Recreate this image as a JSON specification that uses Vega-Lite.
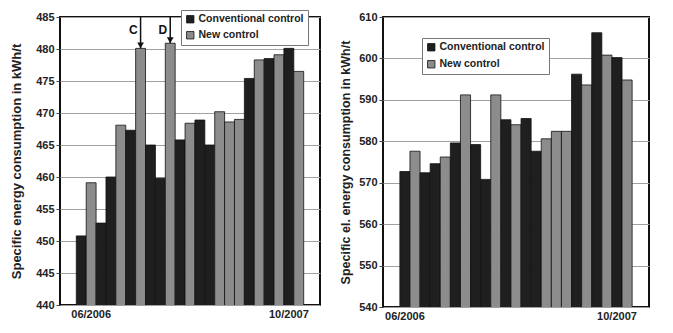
{
  "$schema": "https://vega.github.io/schema/vega-lite/v6.json",
  "background": "white",
  "padding": {"left": 9, "top": 8, "right": 5, "bottom": 2},
  "spacing": 17,
  "datasets": {
    "left": [
      {"period": 1, "control": "Conventional control", "value": 450.8},
      {"period": 2, "control": "New control", "value": 459.1},
      {"period": 3, "control": "Conventional control", "value": 452.8},
      {"period": 4, "control": "Conventional control", "value": 460.0},
      {"period": 5, "control": "New control", "value": 468.1},
      {"period": 6, "control": "Conventional control", "value": 467.3},
      {"period": 7, "control": "New control", "value": 480.1},
      {"period": 8, "control": "Conventional control", "value": 465.0},
      {"period": 9, "control": "Conventional control", "value": 459.8},
      {"period": 10, "control": "New control", "value": 480.9},
      {"period": 11, "control": "Conventional control", "value": 465.8},
      {"period": 12, "control": "New control", "value": 468.4},
      {"period": 13, "control": "Conventional control", "value": 468.9},
      {"period": 14, "control": "Conventional control", "value": 465.0},
      {"period": 15, "control": "New control", "value": 470.2},
      {"period": 16, "control": "New control", "value": 468.6},
      {"period": 17, "control": "New control", "value": 469.0},
      {"period": 18, "control": "Conventional control", "value": 475.4},
      {"period": 19, "control": "New control", "value": 478.3},
      {"period": 20, "control": "Conventional control", "value": 478.5},
      {"period": 21, "control": "New control", "value": 479.1},
      {"period": 22, "control": "Conventional control", "value": 480.1},
      {"period": 23, "control": "New control", "value": 476.5}
    ],
    "right": [
      {"period": 1, "control": "Conventional control", "value": 572.7},
      {"period": 2, "control": "New control", "value": 577.6},
      {"period": 3, "control": "Conventional control", "value": 572.4},
      {"period": 4, "control": "Conventional control", "value": 574.6},
      {"period": 5, "control": "New control", "value": 576.2},
      {"period": 6, "control": "Conventional control", "value": 579.6},
      {"period": 7, "control": "New control", "value": 591.2},
      {"period": 8, "control": "Conventional control", "value": 579.2},
      {"period": 9, "control": "Conventional control", "value": 570.8},
      {"period": 10, "control": "New control", "value": 591.2},
      {"period": 11, "control": "Conventional control", "value": 585.2},
      {"period": 12, "control": "New control", "value": 584.0},
      {"period": 13, "control": "Conventional control", "value": 585.5},
      {"period": 14, "control": "Conventional control", "value": 577.6},
      {"period": 15, "control": "New control", "value": 580.6},
      {"period": 16, "control": "New control", "value": 582.4},
      {"period": 17, "control": "New control", "value": 582.4},
      {"period": 18, "control": "Conventional control", "value": 596.2},
      {"period": 19, "control": "New control", "value": 593.6},
      {"period": 20, "control": "Conventional control", "value": 606.2},
      {"period": 21, "control": "New control", "value": 600.8},
      {"period": 22, "control": "Conventional control", "value": 600.2},
      {"period": 23, "control": "New control", "value": 594.8}
    ],
    "marks": [
      {"period": 7, "label": "C", "top": 480.1, "start": 485},
      {"period": 10, "label": "D", "top": 480.9, "start": 485}
    ]
  },
  "resolve": {"scale": {"color": "independent"}, "legend": {"color": "independent"}},
  "hconcat": [
    {
      "width": 260,
      "height": 288,
      "layer": [
        {
          "data": {"name": "left"},
          "mark": {"type": "bar", "stroke": "#111", "strokeWidth": 0.8, "clip": true},
          "encoding": {
            "x": {
              "field": "period", "type": "ordinal",
              "scale": {"domain": [0, 1, 2, 3, 4, 5, 6, 7, 8, 9, 10, 11, 12, 13, 14, 15, 16, 17, 18, 19, 20, 21, 22, 23, 24], "paddingInner": 0, "paddingOuter": 0.65},
              "axis": {
                "title": null, "ticks": false, "domain": false, "labelAngle": 0, "labelOverlap": false,
                "labelExpr": "datum.value == 2 ? '06/2006' : datum.value == 22 ? '10/2007' : ''",
                "labelFont": "Liberation Sans", "labelFontWeight": "bold", "labelFontSize": 11, "labelColor": "#222", "labelPadding": 3
              }
            },
            "y": {
              "field": "value", "type": "quantitative",
              "scale": {"domain": [440, 485], "zero": false, "nice": false},
              "axis": {
                "title": "Specific energy consumption in kWh/t",
                "values": [440, 445, 450, 455, 460, 465, 470, 475, 480, 485],
                "labelOverlap": false,
                "titleFont": "Liberation Sans", "titleFontWeight": "bold", "titleFontSize": 13, "titleColor": "#222", "titlePadding": 12,
                "labelFont": "Liberation Sans", "labelFontWeight": "bold", "labelFontSize": 11, "labelColor": "#222", "labelPadding": 2,
                "tickSize": 4, "tickColor": "#444", "domain": false,
                "grid": true, "gridColor": "#a0a0a0", "gridWidth": 1
              }
            },
            "color": {
              "field": "control", "type": "nominal",
              "scale": {"domain": ["Conventional control", "New control"], "range": ["#1f1f1f", "#8c8c8c"]},
              "legend": {
                "title": null, "orient": "none", "legendX": 121, "legendY": -7,
                "fillColor": "white", "strokeColor": "#777", "padding": 4, "rowPadding": 4,
                "symbolType": "square", "symbolSize": 55, "symbolStrokeColor": "#111", "symbolStrokeWidth": 0.8,
                "labelFont": "Liberation Sans", "labelFontWeight": "bold", "labelFontSize": 10.5, "labelColor": "#222", "labelOffset": 3
              }
            }
          }
        },
        {
          "data": {"name": "marks"},
          "mark": {"type": "rule", "color": "#111", "strokeWidth": 1.5},
          "encoding": {
            "x": {
              "field": "period", "type": "ordinal",
              "axis": {
                "title": null, "ticks": false, "domain": false, "labelAngle": 0, "labelOverlap": false,
                "labelExpr": "datum.value == 2 ? '06/2006' : datum.value == 22 ? '10/2007' : ''",
                "labelFont": "Liberation Sans", "labelFontWeight": "bold", "labelFontSize": 11, "labelColor": "#222", "labelPadding": 3
              }
            },
            "y": {
              "field": "start", "type": "quantitative",
              "axis": {
                "title": "Specific energy consumption in kWh/t",
                "values": [440, 445, 450, 455, 460, 465, 470, 475, 480, 485],
                "labelOverlap": false,
                "titleFont": "Liberation Sans", "titleFontWeight": "bold", "titleFontSize": 13, "titleColor": "#222", "titlePadding": 12,
                "labelFont": "Liberation Sans", "labelFontWeight": "bold", "labelFontSize": 11, "labelColor": "#222", "labelPadding": 2,
                "tickSize": 4, "tickColor": "#444", "domain": false,
                "grid": true, "gridColor": "#a0a0a0", "gridWidth": 1
              }
            },
            "y2": {"field": "top"}
          }
        },
        {
          "data": {"name": "marks"},
          "mark": {"type": "point", "shape": "triangle-down", "filled": true, "color": "#111", "size": 45, "yOffset": -3, "opacity": 1},
          "encoding": {
            "x": {
              "field": "period", "type": "ordinal",
              "axis": {
                "title": null, "ticks": false, "domain": false, "labelAngle": 0, "labelOverlap": false,
                "labelExpr": "datum.value == 2 ? '06/2006' : datum.value == 22 ? '10/2007' : ''",
                "labelFont": "Liberation Sans", "labelFontWeight": "bold", "labelFontSize": 11, "labelColor": "#222", "labelPadding": 3
              }
            },
            "y": {
              "field": "top", "type": "quantitative",
              "axis": {
                "title": "Specific energy consumption in kWh/t",
                "values": [440, 445, 450, 455, 460, 465, 470, 475, 480, 485],
                "labelOverlap": false,
                "titleFont": "Liberation Sans", "titleFontWeight": "bold", "titleFontSize": 13, "titleColor": "#222", "titlePadding": 12,
                "labelFont": "Liberation Sans", "labelFontWeight": "bold", "labelFontSize": 11, "labelColor": "#222", "labelPadding": 2,
                "tickSize": 4, "tickColor": "#444", "domain": false,
                "grid": true, "gridColor": "#a0a0a0", "gridWidth": 1
              }
            }
          }
        },
        {
          "data": {"name": "marks"},
          "mark": {"type": "text", "font": "Liberation Sans", "fontWeight": "bold", "fontSize": 12, "color": "#111", "dx": -3, "dy": 13, "align": "right"},
          "encoding": {
            "x": {
              "field": "period", "type": "ordinal",
              "axis": {
                "title": null, "ticks": false, "domain": false, "labelAngle": 0, "labelOverlap": false,
                "labelExpr": "datum.value == 2 ? '06/2006' : datum.value == 22 ? '10/2007' : ''",
                "labelFont": "Liberation Sans", "labelFontWeight": "bold", "labelFontSize": 11, "labelColor": "#222", "labelPadding": 3
              }
            },
            "y": {
              "field": "start", "type": "quantitative",
              "axis": {
                "title": "Specific energy consumption in kWh/t",
                "values": [440, 445, 450, 455, 460, 465, 470, 475, 480, 485],
                "labelOverlap": false,
                "titleFont": "Liberation Sans", "titleFontWeight": "bold", "titleFontSize": 13, "titleColor": "#222", "titlePadding": 12,
                "labelFont": "Liberation Sans", "labelFontWeight": "bold", "labelFontSize": 11, "labelColor": "#222", "labelPadding": 2,
                "tickSize": 4, "tickColor": "#444", "domain": false,
                "grid": true, "gridColor": "#a0a0a0", "gridWidth": 1
              }
            },
            "text": {"field": "label"}
          }
        }
      ]
    },
    {
      "width": 266,
      "height": 290,
      "data": {"name": "right"},
      "mark": {"type": "bar", "stroke": "#111", "strokeWidth": 0.8, "clip": true},
      "encoding": {
        "x": {
          "field": "period", "type": "ordinal",
          "scale": {"domain": [0, 1, 2, 3, 4, 5, 6, 7, 8, 9, 10, 11, 12, 13, 14, 15, 16, 17, 18, 19, 20, 21, 22, 23, 24], "paddingInner": 0, "paddingOuter": 0.67},
          "axis": {
            "title": null, "ticks": false, "domain": false, "labelAngle": 0, "labelOverlap": false,
            "labelExpr": "datum.value == 1 ? '06/2006' : datum.value == 22 ? '10/2007' : ''",
            "labelFont": "Liberation Sans", "labelFontWeight": "bold", "labelFontSize": 11, "labelColor": "#222", "labelPadding": 3
          }
        },
        "y": {
          "field": "value", "type": "quantitative",
          "scale": {"domain": [540, 610], "zero": false, "nice": false},
          "axis": {
            "title": "Specific el. energy consumption in kWh/t",
            "values": [540, 550, 560, 570, 580, 590, 600, 610],
            "labelOverlap": false,
            "titleFont": "Liberation Sans", "titleFontWeight": "bold", "titleFontSize": 12.5, "titleColor": "#222", "titlePadding": 6,
            "labelFont": "Liberation Sans", "labelFontWeight": "bold", "labelFontSize": 11, "labelColor": "#222", "labelPadding": 2,
            "tickSize": 4, "tickColor": "#444", "domain": false,
            "grid": true, "gridColor": "#a0a0a0", "gridWidth": 1
          }
        },
        "color": {
          "field": "control", "type": "nominal",
          "scale": {"domain": ["Conventional control", "New control"], "range": ["#1f1f1f", "#8c8c8c"]},
          "legend": {
            "title": null, "orient": "none", "legendX": 39, "legendY": 21,
            "fillColor": "white", "strokeColor": "#777", "padding": 4, "rowPadding": 5,
            "symbolType": "square", "symbolSize": 55, "symbolStrokeColor": "#111", "symbolStrokeWidth": 0.8,
            "labelFont": "Liberation Sans", "labelFontWeight": "bold", "labelFontSize": 10.5, "labelColor": "#222", "labelOffset": 3
          }
        }
      }
    }
  ],
  "config": {
    "view": {"stroke": "#111", "strokeWidth": 2}
  }
}
